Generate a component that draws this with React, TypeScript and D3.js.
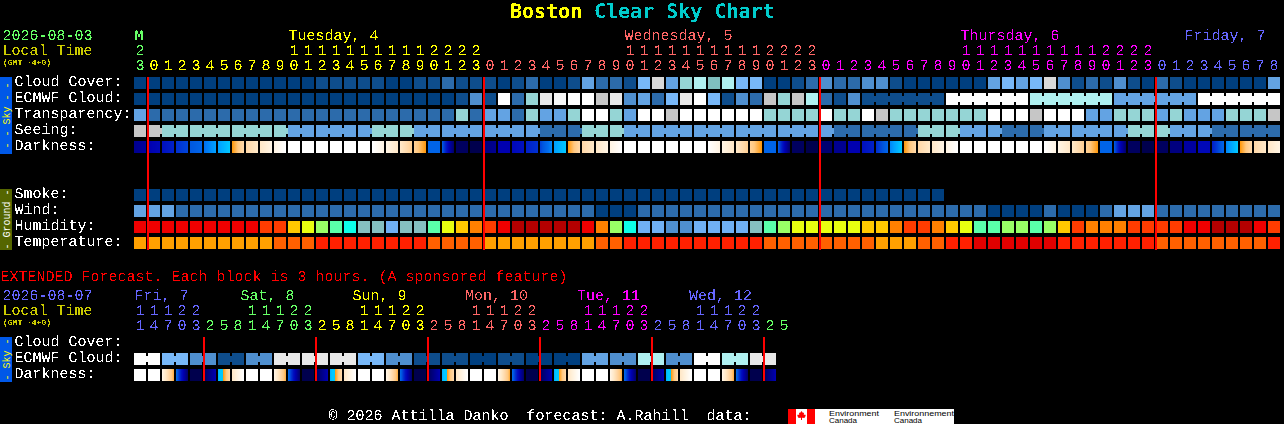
import React from "react";
import * as d3 from "d3";

// ---------- top chart data (one value per hour column) ----------
const hourTens = ["2","","","","","","","","","","","1","1","1","1","1","1","1","1","1","1","2","2","2","2","","","","","","","","","","","1","1","1","1","1","1","1","1","1","1","2","2","2","2","","","","","","","","","","","1","1","1","1","1","1","1","1","1","1","2","2","2","2","","","","","","","","",""];
const hourOnes = [3,0,1,2,3,4,5,6,7,8,9,0,1,2,3,4,5,6,7,8,9,0,1,2,3,0,1,2,3,4,5,6,7,8,9,0,1,2,3,4,5,6,7,8,9,0,1,2,3,0,1,2,3,4,5,6,7,8,9,0,1,2,3,4,5,6,7,8,9,0,1,2,3,0,1,2,3,4,5,6,7,8];
const dayOfHour = [0,1,1,1,1,1,1,1,1,1,1,1,1,1,1,1,1,1,1,1,1,1,1,1,1,2,2,2,2,2,2,2,2,2,2,2,2,2,2,2,2,2,2,2,2,2,2,2,2,3,3,3,3,3,3,3,3,3,3,3,3,3,3,3,3,3,3,3,3,3,3,3,3,4,4,4,4,4,4,4,4,4];
const dayLabels = ["M","Tuesday, 4","Wednesday, 5","Thursday, 6","Friday, 7"];
const dayLabelColumn = [0,11,35,59,75];
const dayColors = ["#66ff66","#ffff00","#ff6666","#ff00ff","#6666ff"];

const cloudCover = [
  0,0,0,0,0,0,0,0,0,0, 0,0,0,5,5,5,5,5,0,0,
  5,5,10,5,5,5,0,5,10,0, 0,5,30,10,10,5,40,80,30,55,
  60,50,60,40,40,0,0,5,10,20, 10,10,20,20,5,0,0,0,0,0,
  0,30,40,30,40,80,20,5,10,5, 20,5,0,10,5,0,0,0,0,0,
  0,30];
const ecmwfCloud = [
  0,0,0,0,0,0,0,0,0,0, 0,0,0,0,0,0,0,0,0,0,
  0,0,0,5,20,5,100,10,55,90, 95,100,100,70,90,20,30,10,40,90,
  100,40,5,20,10,70,55,70,60,10, 5,20,5,5,5,5,5,5,100,100,
  100,100,100,100,60,60,60,60,60,60, 30,30,30,30,30,30,100,100,100,100,
  100,100];
const transparency = [
  30,10,10,10,10,10,10,10,10,10, 10,10,10,10,10,10,10,10,10,10,
  10,10,10,55,10,30,30,10,55,30, 30,55,100,100,55,30,100,100,70,100,
  100,100,100,100,100,55,55,55,55,100, 55,55,100,70,55,55,55,55,55,55,
  55,100,100,100,70,100,100,100,30,30, 55,55,55,30,55,30,30,30,55,55,
  55,70];
const seeing = [
  70,70,55,55,55,55,55,55,55,55, 55,30,30,30,30,30,30,55,55,55,
  30,30,30,30,30,30,30,30,30,10, 10,10,55,55,55,30,30,30,30,30,
  30,30,30,30,30,30,30,30,30,30, 10,10,10,10,10,10,55,55,55,30,
  30,30,10,10,10,30,30,30,30,30, 30,55,55,55,30,30,30,10,10,10,
  10,10];
const darknessFrom = [
  2,3,4,5,6,7,8,10,12,13, 14,15,15,15,15,15,15,15,14,13,
  11.5,6.5,6,0.5,0,1.5,3,3.5,4.5,5.5, 8,10,12,13,14,15,15,15,15,15,
  15,15,14,13,11.5,6.5,6,0.5,0,1, 2,3,4,5,7.5,10,12,13,14,15,
  15,15,15,15,15,15,14,13,11.5,6.5, 6,0.5,0,0.5,1.5,2.5,3.5,4.5,7.5,10,
  12,13];
const darknessTo = [
  2.5,3.5,4.5,5.5,6.5,8,9,12,13,14, 15,15,15,15,15,15,15,14,13,11.5,
  10,6.5,1,0.5,0,2,3,4,5,7.5, 9,12,13,14,15,15,15,15,15,15,
  15,14,13,11.5,10,6.5,1,0.5,0,1, 2,3,4.5,6.5,9,12,13,14,15,15,
  15,15,15,15,15,14,13,11.5,10,6.5, 1,0.5,0,0.5,1.5,2.5,3.5,6.5,9,12,
  13,14];
const smoke = [
  0,0,0,0,0,0,0,0,0,0, 0,0,0,0,0,0,0,0,0,0,
  0,0,0,0,0,0,0,0,0,0, 0,0,0,0,0,0,0,0,0,0,
  0,0,0,0,0,0,0,0,0,0, 0,0,0,0,0,0,0,0];
const wind = [
  12,12,12,6,6,6,6,6,6,6, 6,6,6,6,6,6,6,6,6,6,
  6,6,6,6,6,6,6,6,6,6, 6,6,6,0,0,0,6,6,6,6,
  6,6,6,6,6,6,6,6,6,6, 6,6,6,6,6,6,6,6,6,6,
  6,0,0,0,0,6,0,0,0,6, 12,12,12,6,6,6,6,6,6,6,
  6,6];
const humidity = [
  75,75,75,75,75,75,75,75,75,70, 70,60,55,50,45,40,35,35,30,35,
  35,45,55,60,65,70,75,80,80,80, 80,80,75,65,50,40,30,30,25,25,
  30,30,30,30,35,45,50,55,55,55, 55,55,60,60,65,70,70,65,60,55,
  45,45,50,50,45,50,60,70,65,65, 65,70,70,70,70,75,75,80,80,80,
  75,70];
const temperature = [
  20,20,20,20,20,20,20,20,20,20, 24,24,24,27,27,27,27,27,27,27,
  27,24,24,24,24,20,20,20,20,20, 20,20,20,24,24,27,27,27,27,27,
  27,27,27,27,27,24,24,24,24,24, 24,24,24,20,20,20,24,24,27,27,
  30,30,30,30,30,30,27,27,27,27, 27,27,27,24,24,24,24,24,24,24,
  24,27];

// ---------- extended chart data (one value per 3-hour block) ----------
const extTens = ["1","1","1","2","2","","","","1","1","1","2","2","","","","1","1","1","2","2","","","","1","1","1","2","2","","","","1","1","1","2","2","","","","1","1","1","2","2","",""];
const extOnes = [1,4,7,0,3,2,5,8,1,4,7,0,3,2,5,8,1,4,7,0,3,2,5,8,1,4,7,0,3,2,5,8,1,4,7,0,3,2,5,8,1,4,7,0,3,2,5];
const extDayOfBlock = [0,0,0,0,0,1,1,1,1,1,1,1,1,2,2,2,2,2,2,2,2,3,3,3,3,3,3,3,3,4,4,4,4,4,4,4,4,5,5,5,5,5,5,5,5,6,6];
const extDayColors = ["#6666ff","#66ff66","#ffff00","#ff6666","#ff00ff","#6666ff","#66ff66"];
const extDayLabels = ["Fri, 7","Sat, 8","Sun, 9","Mon, 10","Tue, 11","Wed, 12"];
const extDayLabelX = [134.5,240.5,352.5,465,577,689];
const extCloud = [
  100,100,40,40,20,20,5,5,20,20, 90,90,90,90,90,90,40,40,20,20,
  5,5,5,5,0,0,5,5,0,0, 0,0,30,30,20,20,60,60,20,20,
  100,100,60,60,90,90];
const extDarkFrom = [
  15,15,14,6.5,0,0.5,8.5,13,15,15, 14,6.5,0,0.5,8.5,13,15,15,14,6.5,
  0,0.5,8.5,13,15,15,14,6.5,0,0.5, 8.5,13,15,15,14,6.5,0,0.5,8.5,13,
  15,15,14,6.5,0,0.5];
const extDarkTo = [
  15,15,10.5,1,0,3,12,15,15,15, 10.5,1,0,3,12,15,15,15,10.5,1,
  0,3,12,15,15,15,10.5,1,0,3, 12,15,15,15,10.5,1,0,3,12,15,
  15,15,10.5,1,0,3];

// ---------- labels ----------
const skyLabels = ["Cloud Cover:","ECMWF Cloud:","Transparency:","Seeing:","Darkness:"];
const groundLabels = ["Smoke:","Wind:","Humidity:","Temperature:"];
const extLabels = ["Cloud Cover:","ECMWF Cloud:","Darkness:"];
const midnightColumns = [1,25,49,73];
const extMidnightColumns = [5,13,21,29,37,45];

// ---------- colour scales ----------
const MONO = "'Liberation Mono', monospace";
const skyColor = d3.scaleOrdinal<number, string>()
  .domain([0,5,10,20,30,40,50,55,60,70,80,90,95,100])
  .range(["#003f7f","#0e4d8c","#2c6bab","#4f8fcf","#63a3e3","#78b8f8","#7fbfbf","#95d5d5","#aff0f0","#c6c6c6","#d9d9d9","#e8e8e8","#f8f8f8","#ffffff"]);
const windColor = d3.scaleOrdinal<number, string>().domain([0,6,12]).range(["#003f7f","#2c6bab","#63a3e3"]);
const humidityColor = d3.scaleOrdinal<number, string>()
  .domain([25,30,35,40,45,50,55,60,65,70,75,80])
  .range(["#4f8fcf","#70b0f4","#85c0c0","#0dffe8","#5affaa","#99ff66","#e8ff10","#ffc800","#ff8000","#ff3c00","#f00000","#b40000"]);
const temperatureColor = d3.scaleOrdinal<number, string>().domain([20,24,27,30]).range(["#ffa000","#ff6000","#ff2000","#e00000"]);
const darkColor = d3.scaleLinear<string>()
  .domain([0,1,2,3,4,5,6,7,8,9,9.99,10,11,12,13,14,15])
  .range(["#00004d","#000070","#000090","#0000b0","#0010c0","#0030d0","#0058e0","#0070f0","#00a0ff","#00c8ff","#00c8ff","#ff9a10","#ffc880","#ffd8a8","#ffe8c8","#fff4e4","#ffffff"])
  .interpolate(d3.interpolateRgb);

// ---------- geometry ----------
const CELL = 12;
const x = d3.scaleLinear().domain([0, 1]).range([134, 148]);
const skyY = d3.scaleLinear().domain([0, 1]).range([77, 93]);
const groundY = d3.scaleLinear().domain([0, 1]).range([189, 205]);
const extY = d3.scaleLinear().domain([0, 1]).range([337, 353]);
const stripPx = d3.range(CELL);

function Cells({ values, color, y, joined }: { values: number[]; color: (v: number) => string; y: number; joined?: (i: number) => boolean }) {
  return (
    <g>
      {values.map((v, i) => (
        <g key={i}>
          <rect x={x(i)} y={y} width={CELL} height={CELL} fill={color(v)} />
          {joined && joined(i) && i < values.length - 1 ? (
            <rect x={x(i) + CELL} y={y + 3} width={2} height={6} fill={color(v)} />
          ) : null}
        </g>
      ))}
    </g>
  );
}

function Darkness({ from, to, y }: { from: number[]; to: number[]; y: number }) {
  return (
    <g>
      {from.map((f, i) =>
        stripPx.map((p) => (
          <rect key={i + "-" + p} x={x(i) + p} y={y} width={1} height={CELL}
            fill={darkColor(f + ((to[i] - f) * p) / (CELL - 1))} />
        ))
      )}
    </g>
  );
}

function SideBar({ y, h, fill, textFill, label }: { y: number; h: number; fill: string; textFill: string; label: string }) {
  const cy = y + h / 2;
  return (
    <g>
      <rect x={0} y={y} width={12} height={h} fill={fill} />
      <text transform={`translate(9.5,${cy}) rotate(-90)`} textAnchor="middle" fontFamily={MONO} fontSize={10} fill={textFill}>{label}</text>
    </g>
  );
}

export default function App() {
  return (
    <svg width={1284} height={424} viewBox="0 0 1284 424" shapeRendering="crispEdges"
      style={{ position: "absolute", left: 0, top: 0, background: "#000", display: "block" }}>
      <defs>
        <filter id="crisp" filterUnits="userSpaceOnUse" x={0} y={0} width={1284} height={424} colorInterpolationFilters="sRGB">
          <feComponentTransfer>
            <feFuncA type="discrete" tableValues="0 1" />
          </feComponentTransfer>
        </filter>
      </defs>
      <rect x={0} y={0} width={1284} height={424} fill="#000" />

      {/* sky rows */}
      <Cells values={cloudCover} color={skyColor} y={skyY(0)} />
      <Cells values={ecmwfCloud} color={skyColor} y={skyY(1)} joined={(i) => i >= 52 && (i - 52) % 6 !== 5} />
      <Cells values={transparency} color={skyColor} y={skyY(2)} />
      <Cells values={seeing} color={skyColor} y={skyY(3)} joined={(i) => (i + 1) % 3 !== 1} />
      <Darkness from={darknessFrom} to={darknessTo} y={skyY(4)} />

      {/* ground rows */}
      <Cells values={smoke} color={skyColor} y={groundY(0)} />
      <Cells values={wind} color={windColor} y={groundY(1)} />
      <Cells values={humidity} color={humidityColor} y={groundY(2)} />
      <Cells values={temperature} color={temperatureColor} y={groundY(3)} />

      {/* extended rows */}
      <Cells values={extCloud} color={skyColor} y={extY(1)} joined={(i) => i % 2 === 0} />
      <Darkness from={extDarkFrom} to={extDarkTo} y={extY(2)} />

      {/* midnight markers */}
      {midnightColumns.map((c) => (
        <rect key={c} x={x(c) - 1} y={skyY(0)} width={2} height={173} fill="#ff0000" />
      ))}
      {extMidnightColumns.map((c) => (
        <rect key={c} x={x(c) - 1} y={extY(0)} width={2} height={44} fill="#ff0000" />
      ))}

      {/* side bars */}
      <SideBar y={77} h={77} fill="#0058e8" textFill="#ffff00" label="- - Sky - -" />
      <SideBar y={189} h={61} fill="#556600" textFill="#ffffff" label="- Ground -" />
      <SideBar y={337} h={45} fill="#0058e8" textFill="#ffff00" label="- Sky -" />

      <g filter="url(#crisp)" fontFamily={MONO} fontSize={15} textRendering="geometricPrecision">
        {/* title */}
        <text x={510} y={18} fontFamily="'DejaVu Sans Mono', monospace" fontWeight="bold" fontSize={20} fill="#ffff00">Boston</text>
        <text x={594} y={18} fontFamily="'DejaVu Sans Mono', monospace" fontWeight="bold" fontSize={20} fill="#00cccc">Clear Sky Chart</text>

        {/* top header */}
        <text x={2.5} y={40} fill="#66ff66">2026-08-03</text>
        <text x={2.5} y={55} fill="#cccc00">Local Time</text>
        <text x={3} y={64.5} fontSize={8} fontWeight="bold" fill="#cccc00">(GMT -4+0)</text>
        {dayLabels.map((d, k) => (
          <text key={d} x={x(dayLabelColumn[k]) + 0.5} y={40} fill={dayColors[k]}>{d}</text>
        ))}
        {hourTens.map((t, i) => (t ? (
          <text key={i} x={x(i) + 6} y={55} textAnchor="middle" fill={dayColors[dayOfHour[i]]}>{t}</text>
        ) : null))}
        {hourOnes.map((h, i) => (
          <text key={i} x={x(i) + 6} y={70} textAnchor="middle" fill={dayColors[dayOfHour[i]]}>{h}</text>
        ))}

        {/* row labels */}
        {skyLabels.map((l, k) => <text key={l} x={14.5} y={skyY(k) + 8.5} fill="#ffffff">{l}</text>)}
        {groundLabels.map((l, k) => <text key={l} x={14.5} y={groundY(k) + 8.5} fill="#ffffff">{l}</text>)}
        {extLabels.map((l, k) => <text key={l} x={14.5} y={extY(k) + 8.5} fill="#ffffff">{l}</text>)}

        {/* extended header */}
        <text x={0.5} y={281} fill="#ff0000">EXTENDED Forecast. Each block is 3 hours. (A sponsored feature)</text>
        <text x={2.5} y={300} fill="#6666ff">2026-08-07</text>
        <text x={2.5} y={315} fill="#cccc00">Local Time</text>
        <text x={3} y={324.5} fontSize={8} fontWeight="bold" fill="#cccc00">(GMT -4+0)</text>
        {extDayLabels.map((d, k) => (
          <text key={d} x={extDayLabelX[k]} y={300} fill={extDayColors[k]}>{d}</text>
        ))}
        {extTens.map((t, i) => (t ? (
          <text key={i} x={x(i) + 6} y={315} textAnchor="middle" fill={extDayColors[extDayOfBlock[i]]}>{t}</text>
        ) : null))}
        {extOnes.map((h, i) => (
          <text key={i} x={x(i) + 6} y={330} textAnchor="middle" fill={extDayColors[extDayOfBlock[i]]}>{h}</text>
        ))}

        {/* footer */}
        <text x={328.5} y={420} fill="#ffffff" xmlSpace="preserve">© 2026 Attilla Danko  forecast: A.Rahill  data:</text>
      </g>

      {/* Environment Canada logos */}
      <rect x={788} y={409} width={166} height={15} fill="#ffffff" />
      <rect x={788} y={409} width={8} height={15} fill="#ff0000" />
      <rect x={807} y={409} width={8} height={15} fill="#ff0000" />
      <path d="M801.5 411 L803 413 L804 412.5 L803.8 415 L805.2 414.5 L805.8 416 L804.5 417.2 L805 418 L802 417.7 L802 420 L801 420 L801 417.7 L798 418 L798.5 417.2 L797.2 416 L797.8 414.5 L799.2 415 L799 412.5 L800 413 Z" fill="#ff0000" shapeRendering="auto" />
      <g fontFamily="'Liberation Sans', sans-serif" fontSize={8} fill="#000000">
        <text x={829} y={415.5} textLength={50} lengthAdjust="spacingAndGlyphs">Environment</text>
        <text x={829} y={422.5} textLength={28} lengthAdjust="spacingAndGlyphs">Canada</text>
        <text x={894} y={415.5} textLength={60} lengthAdjust="spacingAndGlyphs">Environnement</text>
        <text x={894} y={422.5} textLength={28} lengthAdjust="spacingAndGlyphs">Canada</text>
      </g>
    </svg>
  );
}
